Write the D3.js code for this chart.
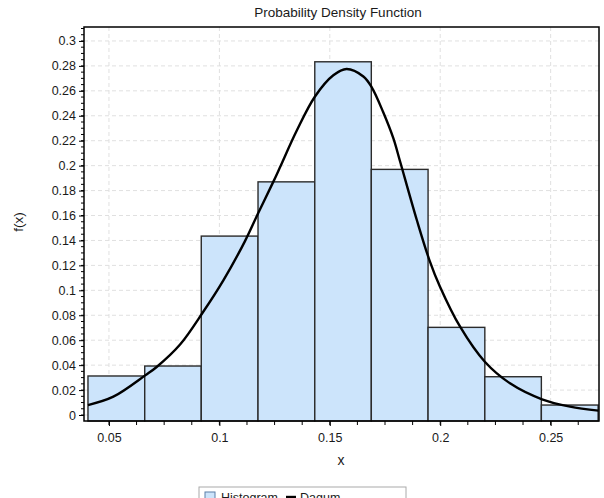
<!DOCTYPE html>
<html><head><meta charset="utf-8">
<script src="https://cdn.jsdelivr.net/npm/d3@7"></script>
<style>body{margin:0;background:#fff}svg{display:block}text{font-family:"Liberation Sans",Arial,sans-serif;fill:#1a1a1a}</style>
</head><body><div id="chart"></div>
<script>
// Histogram bins (edges) and heights
const binEdges = [0.0405, 0.0662, 0.0918, 0.1175, 0.1432, 0.1688, 0.1945, 0.2202, 0.2458, 0.2715];
const binHeights = [0.0313, 0.0393, 0.1435, 0.187, 0.2833, 0.197, 0.0703, 0.0307, 0.008];
// Dagum PDF curve points
const curveX = [0.0405, 0.052, 0.0666, 0.0716, 0.0822, 0.0927, 0.1018, 0.1116, 0.1176, 0.1244, 0.1274, 0.135, 0.1433, 0.1516, 0.1576, 0.1652, 0.169, 0.1742, 0.1788, 0.1818, 0.1894, 0.1951, 0.1999, 0.209, 0.2202, 0.2316, 0.2461, 0.2588, 0.2716];
const curveY = [0.008, 0.0147, 0.032, 0.0385, 0.0565, 0.0828, 0.108, 0.1395, 0.162, 0.187, 0.1985, 0.228, 0.2555, 0.2725, 0.2775, 0.2715, 0.2628, 0.2428, 0.2218, 0.2035, 0.1564, 0.1243, 0.1029, 0.0708, 0.0427, 0.0254, 0.0126, 0.0067, 0.0035];
const xTicks = [0.05, 0.1, 0.15, 0.2, 0.25];
const yTicks = [0, 0.02, 0.04, 0.06, 0.08, 0.1, 0.12, 0.14, 0.16, 0.18, 0.2, 0.22, 0.24, 0.26, 0.28, 0.3];
const yTickLabels = ["0", "0.02", "0.04", "0.06", "0.08", "0.1", "0.12", "0.14", "0.16", "0.18", "0.2", "0.22", "0.24", "0.26", "0.28", "0.3"];
const xTickLabels = ["0.05", "0.1", "0.15", "0.2", "0.25"];
const legendLabels = ["Histogram", "Dagum"];

const W = 604, H = 498;
const L = 84, R = 599, T = 27, B = 421;
const svg = d3.select("#chart").append("svg").attr("width", W).attr("height", H);

const x = d3.scaleLinear().domain([0.0387, 0.2719]).range([L, R]);
const y = d3.scaleLinear().domain([-0.0048, 0.3112]).range([B, T]);

// grid
const grid = svg.append("g");
grid.selectAll("line.gx").data(xTicks).join("line")
  .attr("x1", d => x(d)).attr("x2", d => x(d)).attr("y1", T).attr("y2", B)
  .attr("stroke", "#e0e0e0").attr("stroke-dasharray", "4,3");
grid.selectAll("line.gy").data(yTicks).join("line")
  .attr("y1", d => y(d)).attr("y2", d => y(d)).attr("x1", L).attr("x2", R)
  .attr("stroke", "#e0e0e0").attr("stroke-dasharray", "4,3");

// bars
const bins = binHeights.map((h, i) => ({x0: binEdges[i], x1: binEdges[i + 1], h}));
svg.append("g").selectAll("rect").data(bins).join("rect")
  .attr("x", d => x(d.x0)).attr("width", d => x(d.x1) - x(d.x0))
  .attr("y", d => y(d.h)).attr("height", d => y.range()[0] - y(d.h))
  .attr("fill", "#cce4fb").attr("stroke", "#2b2b2b").attr("stroke-width", 1.4);

// curve
svg.append("clipPath").attr("id", "clip").append("rect").attr("x", L).attr("y", T).attr("width", R - L).attr("height", B - T);
const pts = curveX.map((v, i) => [v, curveY[i]]);
svg.append("path").datum(pts).attr("clip-path", "url(#clip)")
  .attr("d", d3.line().x(d => x(d[0])).y(d => y(d[1])).curve(d3.curveCatmullRom.alpha(0.5)))
  .attr("fill", "none").attr("stroke", "#000").attr("stroke-width", 2.4);

// frame
svg.append("rect").attr("x", L).attr("y", T).attr("width", R - L).attr("height", B - T)
  .attr("fill", "none").attr("stroke", "#000").attr("stroke-width", 1.5);

// axes
const xMinor = d3.range(0.0375, 0.272, 0.0125).filter(v => v >= x.domain()[0] && v <= x.domain()[1]);
const xAxis = d3.axisBottom(x).tickValues(xTicks).tickFormat((d, i) => xTickLabels[i]).tickSize(5).tickPadding(7);
const gx = svg.append("g").attr("transform", `translate(0,${B})`).call(xAxis);
gx.append("g").selectAll("line").data(xMinor).join("line")
  .attr("x1", d => x(d)).attr("x2", d => x(d)).attr("y1", 0).attr("y2", 4).attr("stroke", "#000");
const yMinor = d3.range(0, 0.3101, 0.005);
const yAxis = d3.axisLeft(y).tickValues(yTicks).tickFormat((d, i) => yTickLabels[i]).tickSize(5).tickPadding(3);
const gy = svg.append("g").attr("transform", `translate(${L},0)`).call(yAxis);
gy.append("g").selectAll("line").data(yMinor).join("line")
  .attr("y1", d => y(d)).attr("y2", d => y(d)).attr("x1", 0).attr("x2", -3).attr("stroke", "#000");
[gx, gy].forEach(g => {
  g.select(".domain").remove();
  g.selectAll(".tick line").attr("stroke", "#000");
  g.selectAll(".tick text").attr("font-size", 12.5).attr("fill", "#1a1a1a");
});

// titles
svg.append("text").attr("x", 338).attr("y", 17).attr("text-anchor", "middle").attr("font-size", 13.5).text("Probability Density Function");
svg.append("text").attr("x", 341).attr("y", 465).attr("text-anchor", "middle").attr("font-size", 14).text("x");
svg.append("text").attr("transform", "translate(23,222) rotate(-90)").attr("text-anchor", "middle").attr("font-size", 13.5).text("f(x)");

// legend
const lg = svg.append("g");
lg.append("rect").attr("x", 199).attr("y", 487).attr("width", 207).attr("height", 22).attr("fill", "#fff").attr("stroke", "#aaa");
lg.append("rect").attr("x", 205).attr("y", 492).attr("width", 10).attr("height", 10).attr("fill", "#cce4fb").attr("stroke", "#5a7ea8").attr("stroke-width", 1);
lg.append("text").attr("x", 221).attr("y", 502).attr("font-size", 12.5).text(legendLabels[0]);
lg.append("line").attr("x1", 286).attr("x2", 296).attr("y1", 497).attr("y2", 497).attr("stroke", "#000").attr("stroke-width", 2.4);
lg.append("text").attr("x", 300).attr("y", 502).attr("font-size", 12.5).text(legendLabels[1]);
</script></body></html>
